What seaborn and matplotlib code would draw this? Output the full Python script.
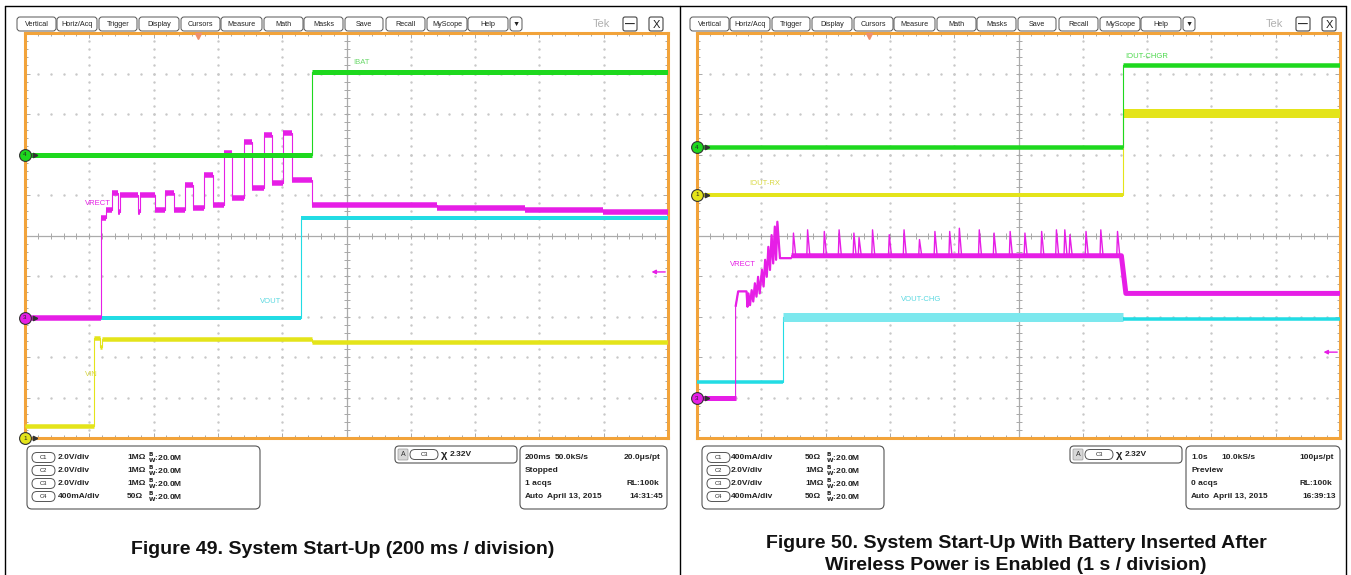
import numpy as np
import pandas as pd
import seaborn as sns
import matplotlib.pyplot as plt
from matplotlib.patches import FancyBboxPatch

sns.set_theme(style='white')
plt.rcParams['font.family'] = ['Liberation Sans', 'DejaVu Sans']

W, H = 1351, 575

# ---- Figure 49 traces, screen divisions (x 0..10, y 0..10) ----
f49_ibat_edges = [0, 4.47, 10]
f49_ibat_levels = [7.0, 9.03]
f49_vout_edges = [0, 4.29, 10]
f49_vout_levels = [2.96, 5.42]
f49_vin_edges = [0, 1.07, 1.16, 1.20, 4.47, 10]
f49_vin_levels = [0.29, 2.47, 2.25, 2.45, 2.38]
f49_vrect_edges = [0, 1.18, 1.26, 1.35, 1.45, 1.48, 1.76, 1.79, 2.02, 2.18, 2.32, 2.49,
                   2.62, 2.78, 2.92, 3.09, 3.22, 3.41, 3.53, 3.71, 3.84, 4.02, 4.15,
                   4.47, 6.40, 7.78, 8.99, 10]
f49_vrect_levels = [2.97, 5.42, 5.63, 6.05, 5.59, 6.0, 5.59, 6.0, 5.63, 6.05, 5.63, 6.25,
                    5.68, 6.49, 5.75, 7.04, 5.93, 7.32, 6.17, 7.48, 6.30, 7.53, 6.37,
                    5.75, 5.68, 5.63, 5.59]

# ---- Figure 50 traces ----
f50_ichg_edges = [0, 6.63, 10]
f50_ichg_levels = [7.18, 9.21]
f50_irx_edges = [0, 6.63, 10]
f50_irx_levels = [6.0, 8.02]
f50_vout_edges = [0, 1.33, 6.63, 10]
f50_vout_levels = [1.39, 2.99, 2.93]
f50_vrect_x = [0, 0.60, 0.60, 0.64, 0.77, 0.785, 0.80, 0.825, 0.85, 0.875, 0.90, 0.925,
               0.95, 0.975, 1.01, 1.035, 1.06, 1.085, 1.11, 1.135, 1.16, 1.185, 1.21,
               1.23, 1.25, 1.29, 1.47, 1.47, 6.60, 6.67, 10]
f50_vrect_y = [0.98, 0.98, 3.24, 3.62, 3.62, 3.24, 3.57, 3.28, 3.65, 3.37, 3.82, 3.49,
               3.98, 3.57, 4.15, 3.74, 4.40, 3.98, 4.72, 4.15, 5.01, 4.31, 5.22,
               4.40, 5.34, 4.44, 4.44, 4.50, 4.50, 3.57, 3.57]
f50_spike_base = 4.50
f50_spike_x = [1.50, 1.72, 1.98, 2.21, 2.44, 2.52, 2.73, 2.99, 3.22, 3.46, 3.70, 3.93,
               4.08, 4.39, 4.62, 4.87, 5.10, 5.36, 5.59, 5.72, 5.80, 6.05, 6.28, 6.54]
f50_spike_y = [5.06, 5.14, 5.10, 5.14, 5.06, 4.95, 5.14, 5.02, 5.14, 4.90, 5.10, 5.10,
               5.18, 5.14, 5.06, 5.10, 5.06, 5.10, 5.14, 5.14, 5.02, 5.10, 5.14, 5.10]

# channel markers on the left edge
f49_marks = ['4', '3', '1']
f49_mark_y = [7.0, 2.97, 0.0]
f50_marks = ['4', '1', '3']
f50_mark_y = [7.18, 6.0, 0.98]

# readouts
menu_names = ['Vertical', 'Horiz/Acq', 'Trigger', 'Display', 'Cursors', 'Measure', 'Math',
              'Masks', 'Save', 'Recall', 'MyScope', 'Help', '\u25BC']
f49_scale = ['2.0V/div', '2.0V/div', '2.0V/div', '400mA/div']
f49_term = ['1M\u03A9', '1M\u03A9', '1M\u03A9', '50\u03A9']
f50_scale = ['400mA/div', '2.0V/div', '2.0V/div', '400mA/div']
f50_term = ['50\u03A9', '1M\u03A9', '1M\u03A9', '50\u03A9']
f49_time = ['200ms', '50.0kS/s', '20.0\u03bcs/pt', 'Stopped', '1 acqs', 'RL:100k',
            'April 13, 2015', '14:31:45']
f50_time = ['1.0s', '10.0kS/s', '100\u03bcs/pt', 'Preview', '0 acqs', 'RL:100k',
            'April 13, 2015', '16:39:13']
trig_level = '2.32V'

ORANGE = '#F2A33A'
GREEN = '#1ED81E'
MAGENTA = '#E61EE6'
CYAN = '#22DCE4'
CYAN_LT = '#7CE8EE'
YELLOW = '#E4E41A'

fig = plt.figure(figsize=(W / 100, H / 100), dpi=100)
bg = fig.add_axes([0, 0, 1, 1])
bg.set_xlim(0, W)
bg.set_ylim(H, 0)
bg.axis('off')


def rbox(x0, y0, x1, y1, r=4, ec='#555555', fc='white', lw=0.8):
    bg.add_patch(FancyBboxPatch((x0, y0), x1 - x0, y1 - y0,
                                boxstyle=f'round,pad=0,rounding_size={r}',
                                ec=ec, fc=fc, lw=lw))


def steps(edges, levels):
    xs, ys = [], []
    for a, b, v in zip(edges[:-1], edges[1:], levels):
        xs += [a, b]
        ys += [v, v]
    return xs, ys


def trace(ax, xs, ys, color, band, colors=None, z=3):
    df = pd.DataFrame({'x': xs, 'y': ys})
    sns.lineplot(data=df, x='x', y='y', ax=ax, color=color, lw=0.8,
                 estimator=None, sort=False, zorder=z)
    df['piece'] = np.cumsum(np.r_[0, np.diff(xs) == 0])
    n = df['piece'].max() + 1
    widths = band if isinstance(band, list) else [band] * n
    colors = colors if colors else [color] * n
    for p, sub in df.groupby('piece'):
        if len(sub) > 1:
            sns.lineplot(data=sub, x='x', y='y', ax=ax, color=colors[p],
                         lw=widths[p] * 0.72, estimator=None, sort=False,
                         solid_capstyle='butt', zorder=z)


def scope(x0, y0, x1, y1):
    ax = fig.add_axes([x0 / W, 1 - y1 / H, (x1 - x0) / W, (y1 - y0) / H])
    ax.set_facecolor('white')
    fine = np.arange(0, 10.01, 0.2)
    for i in range(1, 10):
        if i == 5:
            continue
        ax.plot(fine, [i] * len(fine), ls='none', marker='s', ms=0.7,
                color='#c8c8c8', zorder=1)
        ax.plot([i] * len(fine), fine, ls='none', marker='s', ms=0.7,
                color='#c8c8c8', zorder=1)
    ax.axhline(5, color='#ababab', lw=0.9, zorder=1)
    ax.axvline(5, color='#ababab', lw=0.9, zorder=1)
    ax.plot(fine, [5] * len(fine), ls='none', marker='|', ms=4.5, mew=0.7,
            color='#a8a8a8', zorder=1)
    ax.plot([5] * len(fine), fine, ls='none', marker='_', ms=4.5, mew=0.7,
            color='#a8a8a8', zorder=1)
    return ax


def finish(ax):
    ax.set_xlim(0, 10)
    ax.set_ylim(0, 10)
    ax.set_xlabel('')
    ax.set_ylabel('')
    ax.set_xticks(range(11))
    ax.set_yticks(range(11))
    ax.set_xticks(np.arange(0, 10.01, 0.2), minor=True)
    ax.set_yticks(np.arange(0, 10.01, 0.2), minor=True)
    ax.tick_params(which='both', direction='in', top=True, right=True, bottom=True,
                   left=True, labelbottom=False, labelleft=False, color='#a8a8a8',
                   width=0.7)
    ax.tick_params(which='major', length=3.5)
    ax.tick_params(which='minor', length=2.2)
    for s in ax.spines.values():
        s.set_visible(True)
        s.set_color(ORANGE)
        s.set_linewidth(2.2)
    ax.grid(False)


def markers(ax, names, ys, colors):
    for name, y, c in zip(names, ys, colors):
        ax.plot(0.15, y, marker='>', ms=3.2, color='#333333', clip_on=False, zorder=11)
        ax.plot(0, y, marker='o', ms=8.5, mfc=c, mec='#333333', mew=0.8,
                clip_on=False, zorder=12)
        ax.text(0, y, name, fontsize=4.5, ha='center', va='center', color='#222222',
                zorder=13, clip_on=False)


def trig_marks(ax, tx, ty):
    ax.plot(tx, 9.93, marker='v', ms=5, color='#F0906A', clip_on=False, zorder=12)
    ax.annotate('', xy=(9.7, ty), xytext=(10.0, ty),
                arrowprops=dict(arrowstyle='-|>', color=MAGENTA, lw=1.0,
                                mutation_scale=6), zorder=12)


# ---- outer frame ----
bg.plot([5, 1346], [6, 6], color='black', lw=1)
for xv in [5, 679.5, 1346]:
    bg.plot([xv, xv], [6, H], color='black', lw=1)

# ---- menu bars ----
menu_l = [17, 57, 99, 139, 181, 221, 264, 304, 345, 386, 427, 468, 510]
menu_r = [56, 97, 137, 179, 220, 262, 303, 343, 383, 425, 467, 508, 522]
for ox in [0, 673]:
    for name, a, b in zip(menu_names, menu_l, menu_r):
        rbox(ox + a, 17, ox + b, 31, r=3, ec='#555555', lw=0.7)
        bg.text(ox + (a + b) / 2, 24, name, fontsize=5.2, ha='center', va='center',
                color='#222222')
    bg.text(ox + 601, 24, 'Tek', fontsize=8, ha='center', va='center',
            color='#b0b0b0')
    rbox(ox + 623, 17, ox + 637, 31, r=2, ec='#444444', lw=0.8)
    bg.text(ox + 630, 24.5, '\u2014', fontsize=7, ha='center', va='center',
            color='#222222', fontweight='bold')
    rbox(ox + 649, 17, ox + 663, 31, r=2, ec='#444444', lw=0.8)
    bg.text(ox + 656, 24.5, 'X', fontsize=8, ha='center', va='center', color='#222222')

# ---- Figure 49 screen ----
ax1 = scope(25, 33, 668, 438)
trace(ax1, *steps(f49_vin_edges, f49_vin_levels), YELLOW, 4.5)
trace(ax1, *steps(f49_vout_edges, f49_vout_levels), CYAN, 4)
trace(ax1, *steps(f49_vrect_edges, f49_vrect_levels), MAGENTA, 5.5)
trace(ax1, *steps(f49_ibat_edges, f49_ibat_levels), GREEN, 5)
ax1.text(5.10, 9.28, 'IBAT', color='#6ad86a', fontsize=5.5, va='center')
ax1.text(0.94, 5.78, 'VRECT', color=MAGENTA, fontsize=5.5, va='center')
ax1.text(3.65, 3.37, 'VOUT', color='#5ad8e0', fontsize=5.5, va='center')
ax1.text(0.93, 1.58, 'VIN', color='#d8d840', fontsize=5.5, va='center')
markers(ax1, f49_marks, f49_mark_y, [GREEN, MAGENTA, YELLOW])
trig_marks(ax1, 2.69, 4.1)
finish(ax1)

# ---- Figure 50 screen ----
ax2 = scope(697, 33, 1340, 438)
trace(ax2, *steps(f50_irx_edges, f50_irx_levels), YELLOW, [4, 9])
trace(ax2, *steps(f50_vout_edges, f50_vout_levels), CYAN, [3.5, 9, 3.5],
      colors=[CYAN, CYAN_LT, CYAN])
trace(ax2, f50_vrect_x, f50_vrect_y, MAGENTA, [5, 2.2, 5])
spk = pd.DataFrame({
    'x': np.ravel([[sx - 0.012, sx, sx + 0.035] for sx in f50_spike_x]),
    'y': np.ravel([[f50_spike_base, sy, f50_spike_base] for sy in f50_spike_y]),
    'u': np.repeat(np.arange(len(f50_spike_x)), 3)})
sns.lineplot(data=spk, x='x', y='y', units='u', estimator=None, sort=False,
             ax=ax2, color=MAGENTA, lw=1.0, zorder=3)
trace(ax2, *steps(f50_ichg_edges, f50_ichg_levels), GREEN, 4.5)
ax2.text(6.66, 9.43, 'IOUT-CHGR', color='#4ad84a', fontsize=5.5, va='center')
ax2.text(0.82, 6.29, 'IOUT-RX', color='#d8d840', fontsize=5.5, va='center')
ax2.text(0.52, 4.29, 'VRECT', color=MAGENTA, fontsize=5.5, va='center')
ax2.text(3.17, 3.42, 'VOUT-CHG', color='#5ad8e0', fontsize=5.5, va='center')
markers(ax2, f50_marks, f50_mark_y, [GREEN, YELLOW, MAGENTA])
trig_marks(ax2, 2.67, 2.12)
finish(ax2)

# ---- readout boxes ----
bw = r'${}^{\mathbf{B}}_{\mathbf{W}}$:20.0M'
rows = [457.5, 470.5, 483.5, 496.5]
panels = [(27, 260, 395, 517, 520, 667, f49_scale, f49_term, f49_time, 58, 127, 148),
          (702, 884, 1070, 1182, 1186, 1340, f50_scale, f50_term, f50_time, 731, 805, 826)]
for (cl, cr, tl, tr, ql, qr, scl, trm, tm, c1, c2, c3) in panels:
    rbox(cl, 446, cr, 509, r=5)
    for k, y in enumerate(rows):
        rbox(cl + 5, y - 5, cl + 28, y + 5, r=5, lw=0.7)
        bg.text(cl + 16.5, y, f'C{k + 1}', fontsize=4.2, ha='center', va='center',
                color='#222222')
        bg.text(c1, y, scl[k], fontsize=6, fontweight='bold', va='center',
                color='#222222')
        bg.text(c2, y, trm[k], fontsize=6, fontweight='bold', va='center',
                color='#222222')
        bg.text(c3, y, bw, fontsize=6, fontweight='bold', va='center', color='#222222')
    # trigger readout
    rbox(tl, 446, tr, 463, r=4)
    rbox(tl + 3, 449, tl + 13, 460, r=1, ec='#999999', fc='#d8d8d8', lw=0.5)
    bg.text(tl + 8, 454.5, 'A', fontsize=5, ha='center', va='center', color='#333333')
    rbox(tl + 15, 449.5, tl + 43, 459.5, r=5, lw=0.7)
    bg.text(tl + 29, 454.5, 'C3', fontsize=4.2, ha='center', va='center', color='#222222')
    bg.text(tl + 46, 454.5, '\u03c7', fontsize=8, fontweight='bold', va='center',
            color='#222222')
    bg.text(tl + 55, 454.5, trig_level, fontsize=6, fontweight='bold', va='center',
            color='#222222')
    # timebase readout
    rbox(ql, 446, qr, 509, r=5)
    bg.text(ql + 5, rows[0], tm[0], fontsize=6, fontweight='bold', va='center', color='#222222')
    bg.text(ql + 35, rows[0], tm[1], fontsize=6, fontweight='bold', va='center', color='#222222')
    bg.text(qr - 6, rows[0], tm[2], fontsize=6, fontweight='bold', va='center', ha='right',
            color='#222222')
    bg.text(ql + 5, rows[1], tm[3], fontsize=6, fontweight='bold', va='center', color='#222222')
    bg.text(ql + 5, rows[2], tm[4], fontsize=6, fontweight='bold', va='center', color='#222222')
    bg.text(qr - 8, rows[2], tm[5], fontsize=6, fontweight='bold', va='center', ha='right',
            color='#222222')
    bg.text(ql + 5, rows[3], 'Auto', fontsize=6, fontweight='bold', va='center', color='#222222')
    bg.text(ql + 27, rows[3], tm[6], fontsize=6, fontweight='bold', va='center', color='#222222')
    bg.text(qr - 4, rows[3], tm[7], fontsize=6, fontweight='bold', va='center', ha='right',
            color='#222222')

# ---- captions ----
bg.text(343, 549, 'Figure 49. System Start-Up (200 ms / division)', fontsize=14,
        fontweight='bold', ha='center', va='center', color='#111111')
bg.text(1016, 543, 'Figure 50. System Start-Up With Battery Inserted After', fontsize=14,
        fontweight='bold', ha='center', va='center', color='#111111')
bg.text(1016, 566, 'Wireless Power is Enabled (1 s / division)', fontsize=14,
        fontweight='bold', ha='center', va='center', color='#111111')

fig.savefig('out.png', dpi=100)
